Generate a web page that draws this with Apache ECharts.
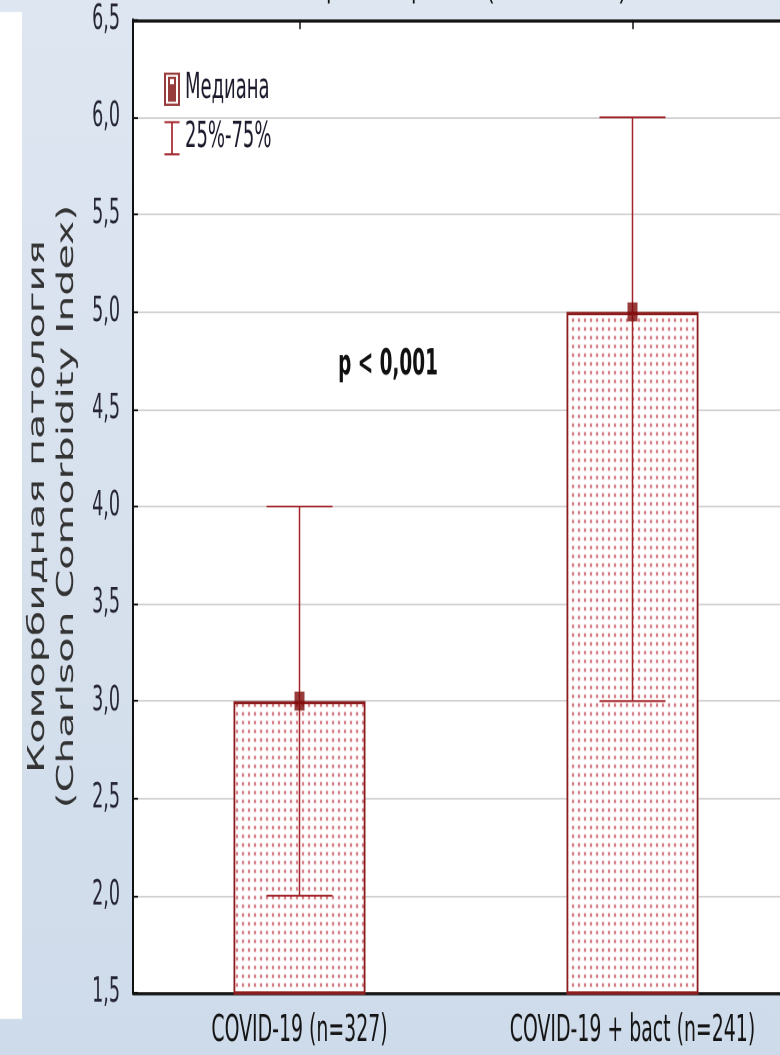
<!DOCTYPE html>
<html>
<head>
<meta charset="utf-8">
<script src="https://cdn.jsdelivr.net/npm/echarts@6/dist/echarts.min.js"></script>
<style>
  html, body { margin: 0; padding: 0; }
  #frame {
    width: 780px; height: 1055px; overflow: hidden; position: relative;
    background: linear-gradient(180deg, #dde6f1 0%, #d6e0ed 60%, #cedbea 100%);
  }
  #chart { width: 800px; height: 603px; transform-origin: 0 0; }
</style>
</head>
<body>
<div id="frame"><div id="chart"></div></div>
<script>
// Groups on the category axis
const categories = ['COVID-19 (n=327)', 'COVID-19 + bact (n=241)'];
// Median of the Charlson index per group (bar height and median marker)
const medians = [3.0, 5.0];
// Interquartile range per group
const quartile25 = [2.0, 3.0];
const quartile75 = [4.0, 6.0];
// Value axis range and step
const yMin = 1.5;
const yMax = 6.5;
const yStep = 0.5;
// Texts
const legendNames = ['Медиана', '25%-75%'];
const pValueText = 'p < 0,001';
const yAxisTitle = ['Коморбидная патология', '(Charlson Comorbidity Index)'];
const headingTail = ['р', 'р', '(', ')'];

// The chart is laid out in a shorter box and stretched vertically,
// which gives the tall, narrow lettering of the statistics package.
const FRAME_H = 1055;
const CHART_H = 603;
const SY = FRAME_H / CHART_H;
const chartEl = document.getElementById('chart');
chartEl.style.transform = 'scaleY(' + SY + ')';
const py = v => v / SY;   // frame pixel -> layout pixel (vertical)

const NARROW = '"DejaVu Sans Condensed", "DejaVu Sans", sans-serif';
const DARK_RED = '#7e0a0a';
const BAR_EDGE = '#8c1c1e';
const WHISKER = '#a3262c';

// Dotted fill of the bars
function dotPattern() {
  const c = document.createElement('canvas');
  c.width = 6; c.height = 5;
  const g = c.getContext('2d');
  g.fillStyle = '#ffffff';
  g.fillRect(0, 0, 6, 5);
  g.fillStyle = '#d06b73';
  g.fillRect(2, 2, 2, 2);
  return c;
}

// Legend glyphs, drawn in the (unstretched) layout proportions
const medianIcon = 'path://M0,0 H160 V190 H0 Z M20,12 V178 H140 V12 Z M40,24 H120 V166 H40 Z M60,36 V66 H100 V36 Z';
const whiskerIcon = 'path://M0,0 H160 V12 H89 V194 H160 V206 H0 V194 H71 V12 H0 Z';

const chart = echarts.init(chartEl, null, { renderer: 'canvas', devicePixelRatio: 2 });

const headingX = [332, 417, 490, 623];

chart.setOption({
  animation: false,
  backgroundColor: 'transparent',
  grid: {
    left: 133, top: py(20), width: 666, height: py(993) - py(20),
    show: true, backgroundColor: '#ffffff', borderWidth: 0
  },
  legend: {
    left: 159, top: py(63), orient: 'vertical',
    itemWidth: 16, itemHeight: py(34), itemGap: py(14),
    selectedMode: false,
    textStyle: { fontFamily: NARROW, fontSize: 20, color: '#1a1a2c' },
    data: [
      { name: legendNames[0], icon: medianIcon },
      { name: legendNames[1], icon: whiskerIcon }
    ]
  },
  xAxis: [
    {
      type: 'category', data: categories, position: 'bottom',
      axisLine: { show: true, lineStyle: { color: '#111', width: 1.7 } },
      axisTick: { show: true, inside: true, alignWithLabel: true, length: py(7), lineStyle: { color: '#111', width: 1.5 } },
      axisLabel: { interval: 0, fontFamily: NARROW, fontSize: 21, color: '#141414', margin: py(20) },
      splitLine: { show: false }
    },
    {
      type: 'category', data: categories, position: 'top',
      axisLine: { show: true, lineStyle: { color: '#111', width: 1.7 } },
      axisTick: { show: true, inside: true, alignWithLabel: true, length: py(9), lineStyle: { color: '#111', width: 1.5 } },
      axisLabel: { show: false },
      splitLine: { show: false }
    }
  ],
  yAxis: {
    type: 'value', min: yMin, max: yMax, interval: yStep,
    axisLine: { show: true, lineStyle: { color: '#111', width: 2 } },
    axisTick: { show: true, inside: true, length: 5, lineStyle: { color: '#111', width: 1.1 } },
    axisLabel: {
      fontFamily: NARROW, fontSize: 19.5, color: '#262636', margin: 13,
      formatter: v => v.toFixed(1).replace('.', ',')
    },
    splitLine: { show: true, lineStyle: { color: '#d2d2d2', width: 0.9 } },
    name: yAxisTitle.join('\n'),
    nameLocation: 'middle', nameGap: 36, nameRotate: 90,
    nameTextStyle: { fontFamily: '"DejaVu Sans", sans-serif', fontSize: 23.5, lineHeight: 29, color: '#333333' }
  },
  series: [
    {
      name: 'bars', type: 'bar', data: medians, barWidth: 132, clip: true, z: 2,
      itemStyle: { color: { image: dotPattern(), repeat: 'repeat' }, borderColor: BAR_EDGE, borderWidth: 1.8 },
      emphasis: { disabled: true }
    },
    {
      name: legendNames[1], type: 'custom', z: 3,
      itemStyle: { color: WHISKER },
      data: categories.map((c, i) => [i, quartile25[i], quartile75[i]]),
      encode: { x: 0, y: [1, 2] },
      renderItem: function (params, api) {
        const lo = api.coord([api.value(0), api.value(1)]);
        const hi = api.coord([api.value(0), api.value(2)]);
        const hw = 33;
        const col = api.visual('color');
        return {
          type: 'group',
          children: [
            { type: 'line', shape: { x1: hi[0], y1: hi[1], x2: lo[0], y2: lo[1] }, style: { stroke: col, lineWidth: 1.5 } },
            { type: 'line', shape: { x1: hi[0] - hw, y1: hi[1], x2: hi[0] + hw, y2: hi[1] }, style: { stroke: col, lineWidth: 1.1 } },
            { type: 'line', shape: { x1: lo[0] - hw, y1: lo[1], x2: lo[0] + hw, y2: lo[1] }, style: { stroke: col, lineWidth: 1.1 } }
          ]
        };
      }
    },
    {
      name: legendNames[0], type: 'scatter', z: 4,
      symbol: 'rect', symbolSize: [10, py(19)],
      itemStyle: { color: DARK_RED },
      data: medians.map((m, i) => [i, m])
    }
  ],
  graphic: [
    { type: 'rect', left: 0, top: py(12), shape: { width: 22, height: py(1019) - py(12) }, style: { fill: '#ffffff' }, z: -10 },
    {
      type: 'text', x: 388, y: py(365), z: 10,
      style: { text: pValueText, fontFamily: NARROW, fontWeight: 'bold', fontSize: 20.5, fill: '#111', align: 'center', verticalAlign: 'middle' }
    }
  ].concat(headingTail.map((t, i) => ({
    type: 'text', x: headingX[i], y: 2.5, z: 10,
    style: { text: t, fontFamily: '"Liberation Sans", sans-serif', fontSize: 20, fill: '#111', align: 'center', verticalAlign: 'bottom' }
  })))
});
</script>
</body>
</html>
